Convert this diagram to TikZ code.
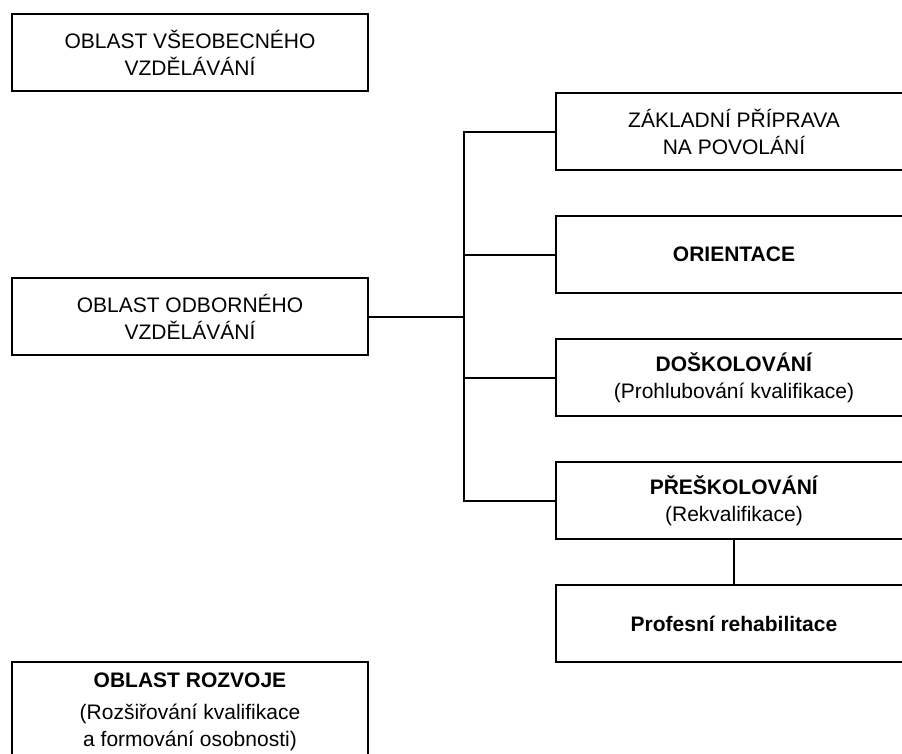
\documentclass[tikz,border=0pt]{standalone}
\usepackage{fontspec}
\setmainfont{Liberation Sans}
\usepackage{tikz}
\usetikzlibrary{positioning}

\begin{document}
\begin{tikzpicture}[x=0.5pt, y=-0.5pt, node distance=22.75pt, line width=1pt,
    every node/.style={rectangle, draw, minimum width=178pt, minimum height=38.75pt, align=center, outer sep=0pt, font=\fontsize{10.5}{13.75}\selectfont}]
    \useasboundingbox (0,0) rectangle (902,754);
    \clip (0,0) rectangle (902,754);
    \node (vseobecne) [anchor=north west] at (12,14) {OBLAST VŠEOBECNÉHO\\VZDĚLÁVÁNÍ};
    \node (odborne) [anchor=north west] at (12,278) {OBLAST ODBORNÉHO\\VZDĚLÁVÁNÍ};
    \node (rozvoj) [anchor=north west, minimum height=50pt] at (12,662) {\textbf{OBLAST ROZVOJE}\\[2pt](Rozšiřování kvalifikace\\a formování osobnosti)};
    \node (zaklad) [anchor=north west] at (556,93) {ZÁKLADNÍ PŘÍPRAVA\\NA POVOLÁNÍ};
    \node (orientace) [below=of zaklad] {\textbf{ORIENTACE}};
    \node (doskolovani) [below=of orientace] {\textbf{DOŠKOLOVÁNÍ}\\(Prohlubování kvalifikace)};
    \node (preskolovani) [below=of doskolovani] {\textbf{PŘEŠKOLOVÁNÍ}\\(Rekvalifikace)};
    \node (rehabilitace) [below=of preskolovani] {\textbf{Profesní rehabilitace}};
    \coordinate [right=48pt of odborne.east] (kmen);
    \foreach \cil in {zaklad, orientace, doskolovani, preskolovani}
        \draw (odborne.east) -- (kmen) |- (\cil.west);
    \draw (preskolovani.south) -- (rehabilitace.north);
\end{tikzpicture}
\end{document}
